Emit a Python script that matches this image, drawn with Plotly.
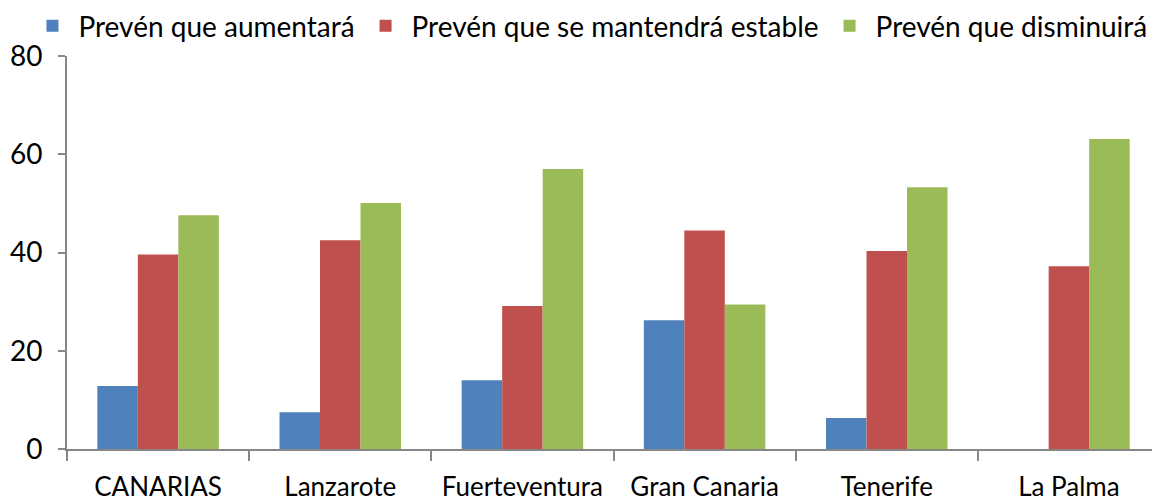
import plotly.graph_objects as go

categories = ["CANARIAS", "Lanzarote", "Fuerteventura", "Gran Canaria", "Tenerife", "La Palma"]
aumentara = [12.8, 7.5, 14.0, 26.2, 6.3, 0]
estable = [39.6, 42.5, 29.1, 44.5, 40.3, 37.2]
disminuira = [47.6, 50.1, 57.0, 29.4, 53.3, 63.1]
series_names = ["Prevén que aumentará", "Prevén que se mantendrá estable", "Prevén que disminuirá"]
colors = ["#4F81BD", "#C0504D", "#9BBB59"]
y_ticks = [0, 20, 40, 60, 80]

FONT = "Lato"

fig = go.Figure()
for name, vals, col in zip(series_names, [aumentara, estable, disminuira], colors):
    fig.add_trace(go.Bar(x=categories, y=vals, name=name,
                         marker=dict(color=col, line=dict(width=0))))

# the page body adds an 8px offset, so the figure is 8px smaller and margins shifted
fig.update_layout(
    width=1152, height=494,
    margin=dict(l=59, r=0, t=48, b=53, autoexpand=False),
    barmode="group", bargap=0.333, bargroupgap=0,
    plot_bgcolor="white", paper_bgcolor="white",
    font=dict(family=FONT, size=26, color="black"),
    legend=dict(orientation="h", x=-0.0371, xanchor="left", y=1.076, yanchor="middle",
                font=dict(family=FONT, size=28, color="black"), bgcolor="rgba(0,0,0,0)",
                itemwidth=42, itemclick=False),
    showlegend=True,
)
fig.update_xaxes(
    type="category", showline=True, linecolor="#868686", linewidth=2,
    ticks="outside", tickson="boundaries", ticklen=10, tickcolor="#868686", tickwidth=2,
    showgrid=False, tickfont=dict(family=FONT, size=26, color="black"),
    ticklabelstandoff=14, automargin=False,
)
fig.update_yaxes(
    range=[0, 80], tickvals=y_ticks, showline=True, linecolor="#868686", linewidth=2,
    ticks="outside", ticklen=7, tickcolor="#868686", tickwidth=2,
    showgrid=False, zeroline=False, tickfont=dict(family=FONT, size=28, color="black"),
    ticklabelstandoff=10, automargin=False,
)
fig.write_html("out.html")
